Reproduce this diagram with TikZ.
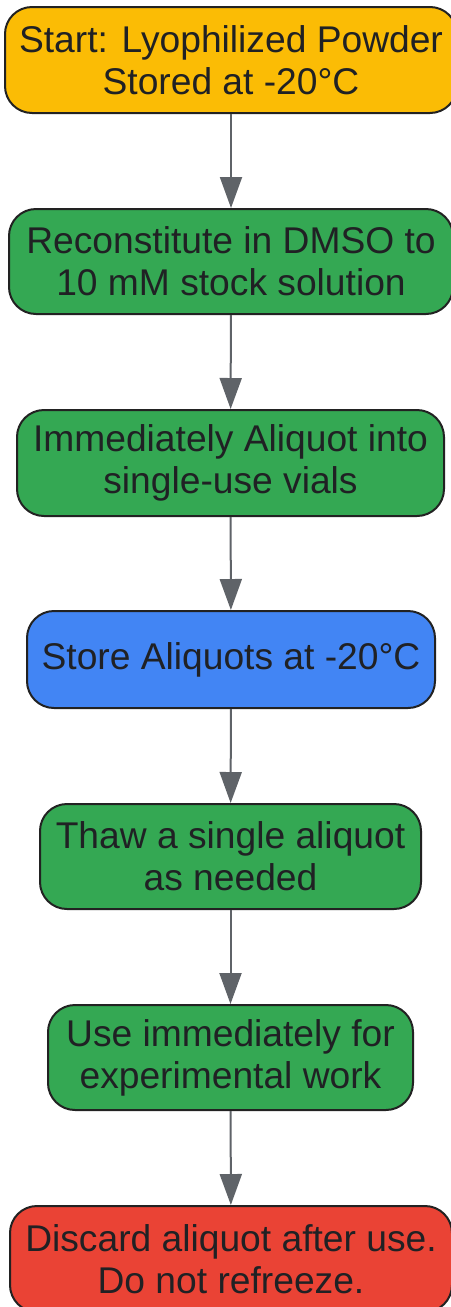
\documentclass[tikz,border=0pt]{standalone}
\usepackage{fontspec}
\setmainfont{Liberation Sans}
\usetikzlibrary{arrows.meta}
\definecolor{cyellow}{HTML}{FBBC05}
\definecolor{cgreen}{HTML}{34A853}
\definecolor{cblue}{HTML}{4285F4}
\definecolor{cred}{HTML}{EA4335}
\definecolor{cborder}{HTML}{222222}
\definecolor{ctext}{HTML}{202124}
\definecolor{carrow}{HTML}{5F6368}
\tikzset{
  stepbox/.style={draw=cborder, line width=2pt, rounded corners=27pt, inner sep=0pt,
    align=center, text=ctext, font=\fontsize{37.2}{42}\selectfont},
  arr/.style={draw=carrow, line width=2pt, -{Triangle[length=31pt,width=22pt]}}
}
\begin{document}
\begin{tikzpicture}[x=1pt,y=-1pt]
\useasboundingbox (0,0) rectangle (450,1307);
\node[stepbox, fill=cyellow, minimum width=452pt, minimum height=106pt] (n1) at (231,60) {Start: Lyophilized Powder\\Stored at -20°C};
\node[stepbox, fill=cgreen, minimum width=444pt, minimum height=105pt] (n2) at (231,261.5) {Reconstitute in DMSO to\\10 mM stock solution};
\node[stepbox, fill=cgreen, minimum width=427pt, minimum height=106pt] (n3) at (230.5,463) {Immediately Aliquot into\\single-use vials};
\node[stepbox, fill=cblue, minimum width=408pt, minimum height=97pt] (n4) at (231,659.5) {Store Aliquots at -20°C};
\node[stepbox, fill=cgreen, minimum width=381pt, minimum height=105pt] (n5) at (230.5,856.5) {Thaw a single aliquot\\as needed};
\node[stepbox, fill=cgreen, minimum width=365pt, minimum height=105pt] (n6) at (230.5,1057.5) {Use immediately for\\experimental work};
\node[stepbox, fill=cred, minimum width=442pt, minimum height=106pt] (n7) at (231,1259) {Discard aliquot after use.\\Do not refreeze.};
\draw[arr] (n1) -- (n2);
\draw[arr] (n2) -- (n3);
\draw[arr] (n3) -- (n4);
\draw[arr] (n4) -- (n5);
\draw[arr] (n5) -- (n6);
\draw[arr] (n6) -- (n7);
\end{tikzpicture}
\end{document}
